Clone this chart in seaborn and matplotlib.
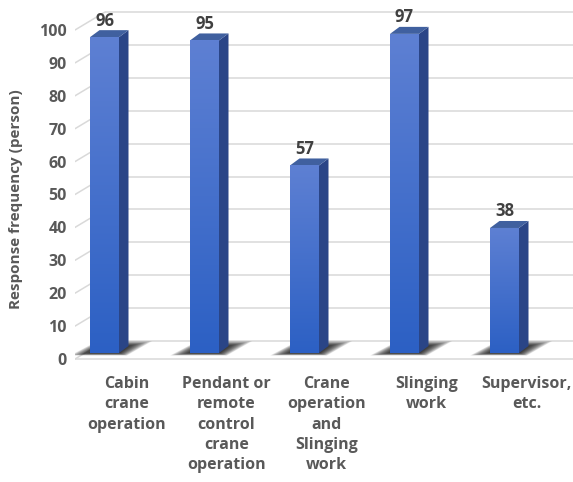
import numpy as np
import pandas as pd
import matplotlib
matplotlib.use("Agg")
import matplotlib.pyplot as plt
import seaborn as sns
from matplotlib.patches import Polygon
from matplotlib.transforms import ScaledTranslation

# ---- data -------------------------------------------------------------
categories = [
    "Cabin\ncrane\noperation",
    "Pendant or\nremote\ncontrol\ncrane\noperation",
    "Crane\noperation\nand\nSlinging\nwork",
    "Slinging\nwork",
    "Supervisor,\netc.",
]
responses = [96, 95, 57, 97, 38]
y_ticks = [0, 10, 20, 30, 40, 50, 60, 70, 80, 90, 100]
y_title = "Response frequency (person)"

# ---- figure geometry (pixels) -----------------------------------------
W, H, DPI = 573, 482, 100
AX_L, AX_R, AX_T, AX_B = 75, 573, 5, 362       # axes box in image pixels
BASE_PX = 353                                   # bar base line in image pixels
PX_X = 100.0                                    # pixels per category step
PX_Y = 3.29                                     # pixels per response unit
FIRST_PX = 104.5                                # centre of first bar

xmin = -(FIRST_PX - AX_L) / PX_X
xmax = xmin + (AX_R - AX_L) / PX_X
ymin = -(AX_B - BASE_PX) / PX_Y
ymax = (BASE_PX - AX_T) / PX_Y

def dx(px):
    return px / PX_X

def dy(px):
    # positive px = upward on screen
    return px / PX_Y

# depth offsets relative to the bar plane
DEPTH_X, DEPTH_Y = dx(9.5), dy(7)       # bar depth
FRONT_X, FRONT_Y = dx(-10), dy(-6)      # front edge of floor / wall
BACK_X, BACK_Y = dx(20), dy(12)         # back wall

GRID = "#d9d9d9"
TEXT = "#595959"
FRONT_TOP = np.array([94, 128, 211]) / 255
FRONT_BOT = np.array([44, 96, 196]) / 255
SIDE = "#2a4587"
TOP = "#40609f"

sns.set_theme(style="white")
plt.rcParams["font.family"] = ["Open Sans", "DejaVu Sans"]

fig = plt.figure(figsize=(W / DPI, H / DPI), dpi=DPI)
fig.patch.set_facecolor("white")
ax = fig.add_axes([AX_L / W, (H - AX_B) / H, (AX_R - AX_L) / W, (AX_B - AX_T) / H])

df = pd.DataFrame({"category": categories, "responses": responses})
sns.barplot(data=df, x="category", y="responses", width=0.29, color="#4472c4",
            saturation=1, ax=ax, zorder=4, linewidth=0)

# ---- walls and floor --------------------------------------------------
wall_left = xmin + dx(30)
for v in y_ticks:
    ax.plot([wall_left, xmax], [v + BACK_Y, v + BACK_Y], color=GRID, lw=1.1, zorder=1,
            solid_capstyle="butt")
    ax.plot([xmin, wall_left], [v + FRONT_Y, v + BACK_Y], color=GRID, lw=1.1, zorder=1)
ax.plot([xmin, xmax], [FRONT_Y, FRONT_Y], color=GRID, lw=1.1, zorder=1)

# ---- 3-D bars ---------------------------------------------------------
grad = np.linspace(0, 1, 256)[:, None, None]
grad_img = FRONT_TOP[None, None, :] * (1 - grad) + FRONT_BOT[None, None, :] * grad

N_SHADOW = 20
for p in ax.patches:
    x0, w, h = p.get_x(), p.get_width(), p.get_height()
    x1 = x0 + w

    # soft floor shadow: footprint grown outwards in fading layers
    for k in range(N_SHADOW):
        s = 1 - k / N_SHADOW
        shadow = Polygon([
            (x0 - dx(20) * s, -dy(2.5) * s),
            (x1 + dx(8) * s, -dy(2.5) * s),
            (x1 + DEPTH_X + dx(24) * s, DEPTH_Y + dy(5) * s),
            (x0 + DEPTH_X - dx(2) * s, DEPTH_Y + dy(5) * s),
        ], closed=True, facecolor="black", edgecolor="none", alpha=0.065, zorder=2)
        ax.add_patch(shadow)

    im = ax.imshow(grad_img, extent=[x0, x1, 0, h], aspect="auto", zorder=5,
                   interpolation="bilinear", origin="upper")
    im.set_clip_path(p)

    ax.add_patch(Polygon([(x1, 0), (x1, h), (x1 + DEPTH_X, h + DEPTH_Y), (x1 + DEPTH_X, DEPTH_Y)],
                         closed=True, facecolor=SIDE, edgecolor="none", zorder=4))
    ax.add_patch(Polygon([(x0, h), (x1, h), (x1 + DEPTH_X, h + DEPTH_Y), (x0 + DEPTH_X, h + DEPTH_Y)],
                         closed=True, facecolor=TOP, edgecolor="none", zorder=4))

ax.bar_label(ax.containers[0], labels=[str(v) for v in responses], padding=5.5,
             fontsize=12, fontweight="bold", color="#404040", zorder=6)

# ---- axes styling -----------------------------------------------------
ax.set_xlim(xmin, xmax)
ax.set_ylim(ymin, ymax)
for s in ax.spines.values():
    s.set_visible(False)
ax.set_xlabel("")
ax.set_ylabel("")

ax.set_yticks(y_ticks)
ax.set_yticklabels([str(v) for v in y_ticks], fontsize=11.5, fontweight="bold", color=TEXT)
ax.tick_params(axis="y", length=0, pad=5.8)
shift_down = ScaledTranslation(0, -6 / DPI, fig.dpi_scale_trans)
for lab in ax.get_yticklabels():
    lab.set_transform(lab.get_transform() + shift_down)

ax.set_xticks(range(len(categories)))
ax.set_xticklabels(categories, fontsize=11.5, fontweight="bold", color=TEXT, linespacing=1.36)
ax.tick_params(axis="x", length=0, pad=10)
shift_right = ScaledTranslation(22 / DPI, 0, fig.dpi_scale_trans)
for lab in ax.get_xticklabels():
    lab.set_transform(lab.get_transform() + shift_right)

fig.text(16 / W, 1 - 199 / H, y_title, rotation=90, ha="center", va="center",
         fontsize=11, fontweight="bold", color=TEXT)

fig.savefig("out.png", dpi=DPI, facecolor="white")
